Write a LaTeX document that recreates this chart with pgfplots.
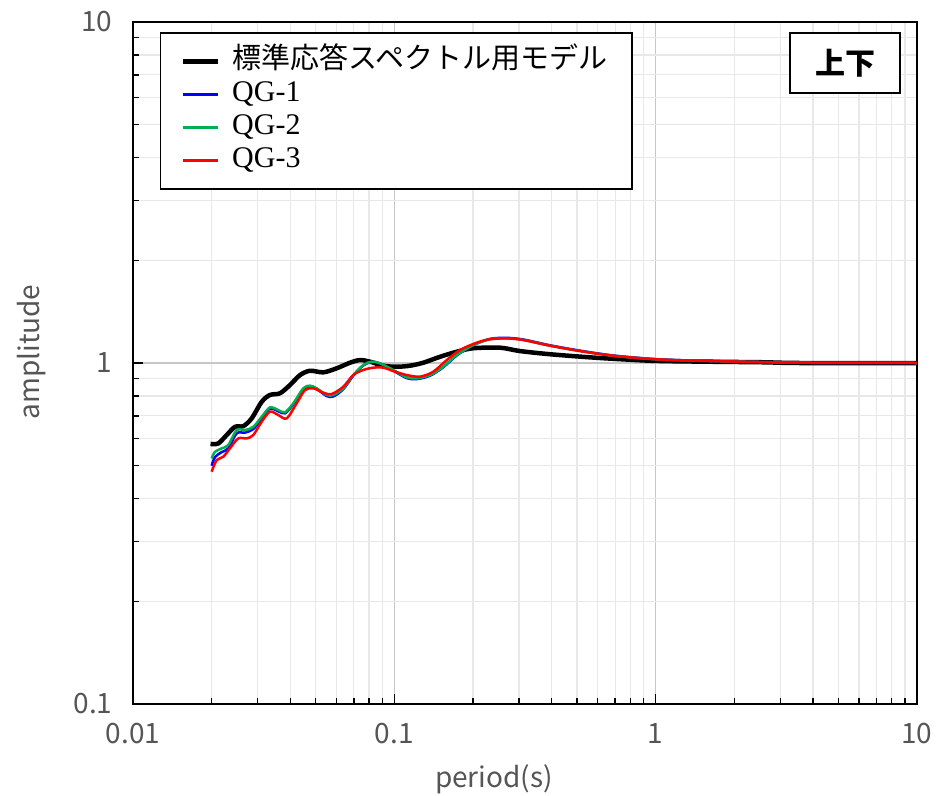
\documentclass[border=0pt]{standalone}
\usepackage{pgfplots}
\pgfplotsset{compat=1.18}
\usepackage{fontspec}
\setmainfont{Liberation Serif}
\newfontfamily\jp{Noto Sans CJK JP}
\definecolor{lblgray}{HTML}{555555}
\definecolor{qgblue}{HTML}{0000FF}
\definecolor{qggreen}{HTML}{00B050}
\definecolor{qgred}{HTML}{FF0000}
\begin{document}
\begin{tikzpicture}
\begin{axis}[
  name=ax,
  xmode=log, ymode=log,
  scale only axis, width=784pt, height=682pt,
  xmin=0.01, xmax=10, ymin=0.1, ymax=10,
  xtick={0.01,0.1,1,10}, xticklabels={0.01,0.1,1,10},
  ytick={0.1,1,10}, yticklabels={0.1,1,10},
  minor xtick={0.02,0.03,0.04,0.05,0.06,0.07,0.08,0.09,0.2,0.3,0.4,0.5,0.6,0.7,0.8,0.9,2,3,4,5,6,7,8,9},
  minor ytick={0.2,0.3,0.4,0.5,0.6,0.7,0.8,0.9,2,3,4,5,6,7,8,9},
  grid=both,
  major grid style={draw=black!22, line width=1.3pt},
  minor grid style={draw=black!9, line width=1.3pt},
  tick align=inside, tick pos=left,
  major tick length=10pt, minor tick length=6pt,
  tick style={black, line width=1.5pt},
  axis line style={black, line width=2pt},
  ticklabel style={font=\jp\fontsize{28}{28}\selectfont, text=lblgray},
  xticklabel style={yshift=-16pt},
  yticklabel style={xshift=-17pt},
  xlabel={period(s)}, ylabel={amplitude},
  label style={font=\jp\fontsize{28}{28}\selectfont, text=lblgray},
  xlabel style={at={(axis description cs:0.4605,0)}, anchor=center, yshift=-75pt},
  ylabel style={at={(axis description cs:-0.1288,0.516)}, anchor=center},
  legend cell align=left,
  legend style={at={(rel axis cs:0.0344,0.9853)}, anchor=north west, draw=black, line width=1.5pt,
    fill=white, inner xsep=20pt, inner ysep=12pt, row sep=0pt, column sep=12pt,
    font=\fontsize{30}{30}\selectfont,
    nodes={inner xsep=0pt, inner ysep=1.5pt, text height=22pt, text depth=8pt}},
  legend image code/.code={\draw[#1] (0pt,0pt) -- (35pt,0pt);},
]
\addplot[black, line width=4.5pt, smooth] coordinates {
(0.0198,0.579) (0.0212,0.581) (0.02284,0.615) (0.02457,0.650) (0.02644,0.653)
(0.02846,0.688) (0.0311,0.770) (0.03344,0.806) (0.03652,0.815) (0.03989,0.862)
(0.04357,0.922) (0.04759,0.949) (0.0535,0.939) (0.0602,0.965) (0.06768,1.002)
(0.07392,1.020) (0.08072,1.009) (0.09077,0.982) (0.1021,0.975) (0.1148,0.982)
(0.1291,1.002) (0.1496,1.043) (0.1733,1.079) (0.2006,1.105) (0.2538,1.109)
(0.3027,1.084) (0.3943,1.061) (0.5609,1.039) (0.7503,1.025) (1.01,1.014)
(1.569,1.009) (2.576,1.005) (3.57,1.0) (10,1.0)};
\addlegendentry{\makebox[380pt][l]{\jp\fontsize{29}{29}\selectfont 標準応答スペクトル用モデル}}
\addplot[qgblue, line width=2.5pt, smooth] coordinates {
(0.0200,0.500) (0.0206,0.530) (0.02186,0.548) (0.02316,0.562) (0.02494,0.622)
(0.02684,0.625) (0.02887,0.640) (0.0311,0.688) (0.03344,0.735) (0.03597,0.722)
(0.03817,0.712) (0.04107,0.757) (0.04485,0.838) (0.04759,0.855) (0.05047,0.840)
(0.05512,0.800) (0.0584,0.798) (0.0638,0.838) (0.06967,0.918) (0.0761,0.984)
(0.08193,1.007) (0.08816,0.996) (0.0991,0.950) (0.1115,0.903) (0.1218,0.897)
(0.137,0.918) (0.154,0.972) (0.1733,1.052) (0.2006,1.128) (0.2324,1.177)
(0.2692,1.185) (0.3116,1.172) (0.3943,1.127) (0.5137,1.087) (0.6888,1.052)
(1.01,1.026) (1.569,1.014) (2.813,1.005) (3.57,1.002) (10,1.0)};
\addlegendentry{QG-1}
\addplot[qggreen, line width=2.5pt, smooth] coordinates {
(0.0200,0.525) (0.0206,0.549) (0.02186,0.562) (0.02316,0.575) (0.02494,0.636)
(0.02684,0.636) (0.02887,0.650) (0.0311,0.696) (0.03344,0.741) (0.03597,0.728)
(0.03817,0.717) (0.04107,0.762) (0.04485,0.843) (0.04759,0.858) (0.05047,0.843)
(0.05512,0.806) (0.0584,0.806) (0.0638,0.843) (0.06967,0.922) (0.0761,0.987)
(0.08193,1.009) (0.08816,0.998) (0.0991,0.954) (0.1115,0.908) (0.1218,0.902)
(0.137,0.922) (0.154,0.975) (0.1733,1.055) (0.2006,1.129) (0.2324,1.174)
(0.2692,1.181) (0.3116,1.168) (0.3943,1.124) (0.5137,1.084) (0.6888,1.050)
(1.01,1.025) (1.569,1.014) (2.813,1.005) (3.57,1.002) (10,1.0)};
\addlegendentry{QG-2}
\addplot[qgred, line width=2.5pt, smooth] coordinates {
(0.0200,0.480) (0.0209,0.519) (0.02216,0.531) (0.0235,0.562) (0.02529,0.601)
(0.02724,0.601) (0.02887,0.615) (0.0311,0.673) (0.03344,0.720) (0.03597,0.704)
(0.03875,0.688) (0.04232,0.762) (0.04552,0.833) (0.04898,0.843) (0.0535,0.818)
(0.05759,0.811) (0.0638,0.852) (0.06967,0.922) (0.0761,0.954) (0.0831,0.969)
(0.09077,0.969) (0.0991,0.947) (0.1115,0.922) (0.1254,0.912) (0.141,0.943)
(0.1587,1.020) (0.1784,1.092) (0.2067,1.147) (0.2324,1.174)
(0.2692,1.181) (0.3116,1.168) (0.3943,1.124) (0.5137,1.084) (0.6888,1.050)
(1.01,1.025) (1.569,1.014) (2.813,1.005) (3.57,1.002) (10,1.0)};
\addlegendentry{QG-3}
\node[draw=black, line width=2pt, fill=white, minimum width=110pt, minimum height=60pt,
  inner sep=0pt, font=\jp\bfseries\fontsize{30}{30}\selectfont] at (rel axis cs:0.9082,0.9399) {上下};
\end{axis}
\pgfresetboundingbox
\path[use as bounding box] ([shift={(-133pt,-91pt)}]ax.south west) rectangle ([shift={(27pt,22pt)}]ax.north east);
\end{tikzpicture}
\end{document}
